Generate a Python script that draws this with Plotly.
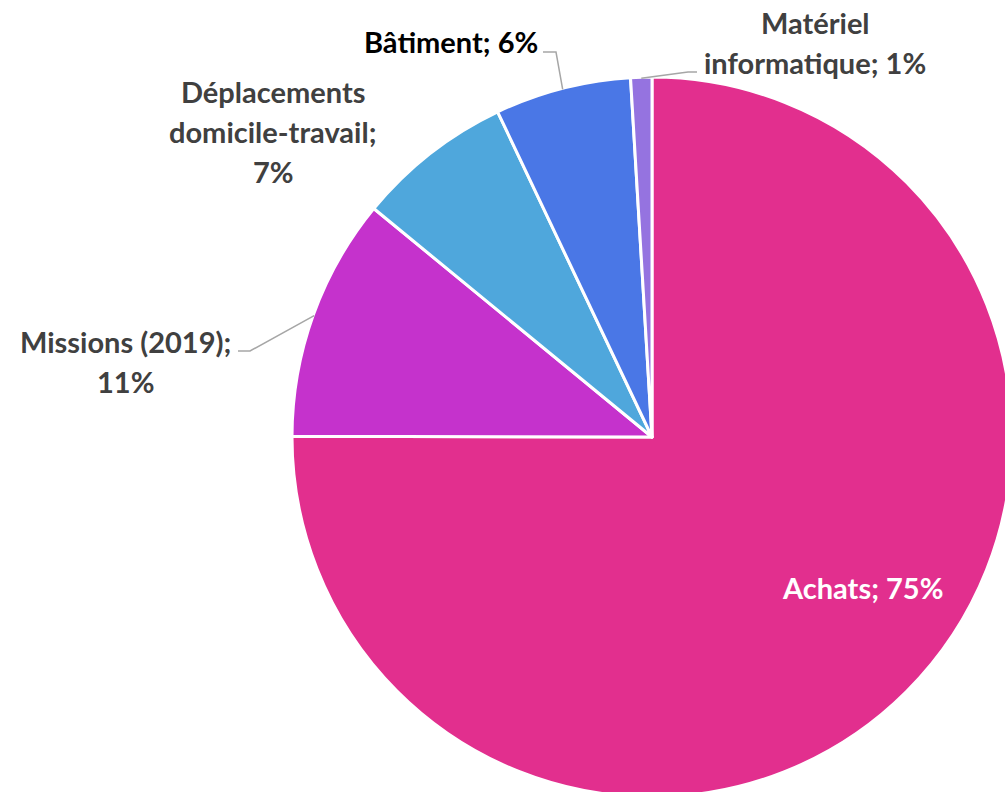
import math
import plotly.graph_objects as go

labels = ["Achats", "Missions (2019)", "Déplacements domicile-travail", "Bâtiment", "Matériel informatique"]
values = [75.0, 10.9, 7.0, 6.1, 0.95]
pct_text = ["75%", "11%", "7%", "6%", "1%"]
colors = ["#E22F8E", "#C532CC", "#4FA7DC", "#4A77E6", "#9573E0"]

W, H = 1014, 798          # slightly larger than the viewport so the pie is clipped like the reference
CX, CY, R = 652, 437, 360  # domain radius (drawn radius is a bit smaller because of the border)

fig = go.Figure(go.Pie(
    labels=labels, values=values, sort=False, direction="clockwise", rotation=0,
    marker=dict(colors=colors, line=dict(color="white", width=3)),
    textinfo="none", hoverinfo="label+percent", showlegend=False,
    domain=dict(x=[(CX - R) / W, (CX + R) / W], y=[(H - CY - R) / H, (H - CY + R) / H]),
))

def px(x, y):
    return x / W, 1 - y / H

font_family = "Lato"
LS = 40
ann_specs = [
    (["Achats; 75%"], 862, 587, "white"),
    (["Missions (2019);", "11%"], 125, 361, "#404040"),
    (["Déplacements", "domicile-travail;", "7%"], 273, 131, "#404040"),
    (["Bâtiment; 6%"], 451, 42, "#000000"),
    (["Matériel", "informatique; 1%"], 815, 42, "#404040"),
]
annotations = []
for lines, x, y, col in ann_specs:
    n = len(lines)
    for k, line in enumerate(lines):
        ly = y + (k - (n - 1) / 2) * LS
        ax, ay = px(x, ly)
        annotations.append(dict(x=ax, y=ay, xref="paper", yref="paper", text=f"<b>{line}</b>",
                                showarrow=False, xanchor="center", yanchor="middle", align="center",
                                font=dict(family=font_family, size=29, color=col)))

total = sum(values)
cum = 0
mids = []
for v in values:
    mids.append((cum + v / 2) / total * 2 * math.pi)
    cum += v

RV = 357
elbows = {1: [(250, 351), (238, 351)], 3: [(556, 52), (543, 52)], 4: [(688, 72), (697, 72)]}
shapes = []
for i, pts in elbows.items():
    th = mids[i]
    sx, sy = CX + (RV + 2) * math.sin(th), CY - (RV + 2) * math.cos(th)
    path_pts = [(sx, sy)] + pts
    d = "M " + " L ".join(f"{px(a, b)[0]},{px(a, b)[1]}" for a, b in path_pts)
    shapes.append(dict(type="path", path=d, xref="paper", yref="paper",
                       line=dict(color="#A6A6A6", width=1.5)))

fig.update_layout(width=W, height=H, margin=dict(l=0, r=0, t=0, b=0),
                  paper_bgcolor="white", plot_bgcolor="white",
                  annotations=annotations, shapes=shapes)
fig.write_html("out.html", config={"displayModeBar": False},
               post_script="document.body.style.margin='0';document.body.style.overflow='hidden';")
